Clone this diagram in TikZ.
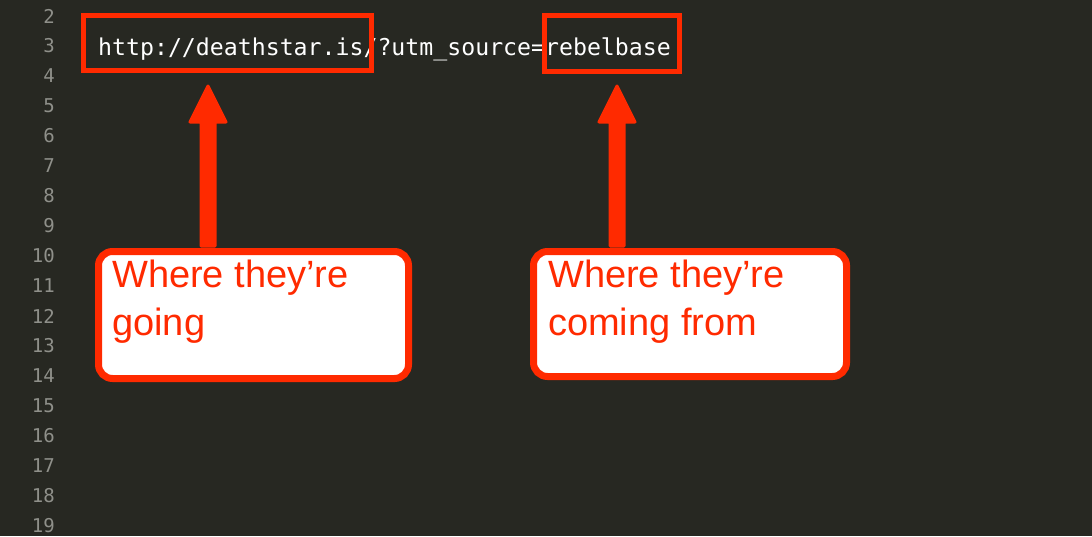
\documentclass[tikz,border=0pt]{standalone}
\usepackage{fontspec}
\setmainfont{Liberation Sans}
\newfontfamily\codefont{DejaVu Sans Mono}
\usetikzlibrary{arrows.meta}
\definecolor{bg}{HTML}{272822}
\definecolor{gut}{HTML}{8F908A}
\definecolor{rd}{HTML}{FF2A00}
\begin{document}
\begin{tikzpicture}[x=1pt,y=-1pt,
  lnum/.style={anchor=east,text=gut,font=\codefont\fontsize{19}{19}\selectfont,inner sep=0pt},
  hl/.style={draw=rd,line width=5pt},
  callout/.style={draw=rd,line width=7pt,fill=white,rounded corners=14pt},
  ctext/.style={text=rd,font=\fontsize{38}{48}\selectfont,align=left,anchor=north west,inner sep=0pt},
  bigarrow/.style={draw=rd,fill=rd,line width=3pt,line join=round}]
\fill[bg] (0,0) rectangle (1092,536);
\useasboundingbox (0,0) rectangle (1092,536);
\foreach \n in {2,...,19}{
  \node[lnum] (ln\n) at (55,{16+30*(\n-2)}) {\n};
}
\node[anchor=base west,inner sep=0pt,text=white,font=\codefont\fontsize{23.2}{23.2}\selectfont] (code) at (98,55) {http://deathstar.is/?utm\_source=rebelbase};
\draw[hl] (83,15) rectangle (371,70);
\draw[hl] (544,15) rectangle (679,71);
\node[callout,minimum width=310pt,minimum height=127pt,anchor=north west] (c1) at (95,248) {};
\node[callout,minimum width=313pt,minimum height=125pt,anchor=north west] (c2) at (530,248) {};
\node[ctext] (t1) at (112,260) {Where they're\\going};
\node[ctext] (t2) at (548,260) {Where they're\\coming from};
\coordinate (a1) at (208,86);
\coordinate (a2) at (617,86);
\draw[bigarrow] (a1) -- ++(18,36) -- ++(-11,0) -- ++(0,124) -- ++(-14,0) -- ++(0,-124) -- ++(-11,0) -- cycle;
\draw[bigarrow] (a2) -- ++(18,36) -- ++(-11,0) -- ++(0,124) -- ++(-14,0) -- ++(0,-124) -- ++(-11,0) -- cycle;
\end{tikzpicture}
\end{document}
